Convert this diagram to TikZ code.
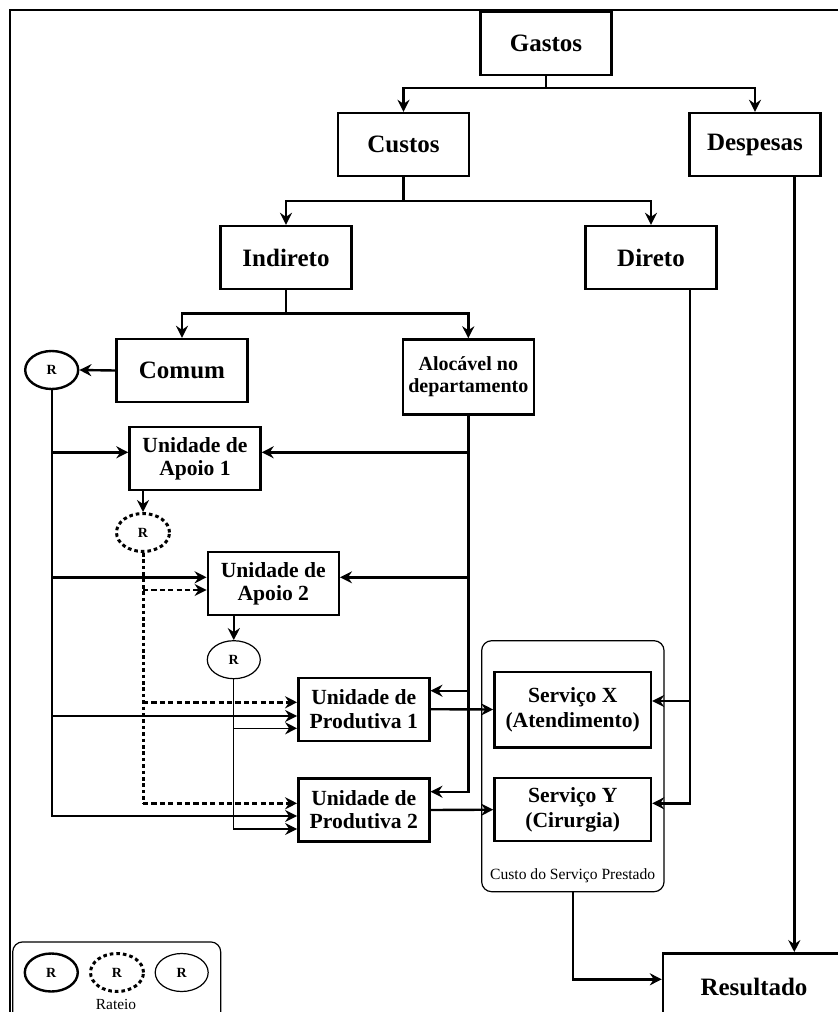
\documentclass[tikz,border=0pt]{standalone}
\usepackage{fontspec}
\setmainfont{Liberation Serif}
\usetikzlibrary{arrows.meta, positioning, shapes.geometric, calc}

\begin{document}
\begin{tikzpicture}[x=0.5pt, y=-0.5pt,
  box/.style={draw, line width=1.2pt, rectangle, align=center, inner sep=0pt,
    minimum width=65.5pt, minimum height=31.5pt, font=\fontsize{12.5}{14}\selectfont\bfseries},
  unitbox/.style={box, font=\fontsize{10.8}{11.6}\selectfont\bfseries},
  rat/.style={draw, ellipse, inner sep=0pt, minimum width=26.5pt, minimum height=19pt,
    font=\fontsize{7}{8}\selectfont\bfseries},
  link/.style={line width=1.2pt, -{Stealth[length=6pt, width=6pt, inset=2pt]}},
  thinlink/.style={line width=0.6pt, -{Stealth[length=6pt, width=6pt, inset=2pt]}},
  dashlink/.style={link, dash pattern=on 2.6pt off 1.6pt},
  dotline/.style={line width=1.5pt, dash pattern=on 1.8pt off 1.4pt},
  group/.style={draw, line width=0.6pt, rounded corners=5pt, inner sep=0pt}
]
  \useasboundingbox (0,0) rectangle (838,1012);
  \clip (0,0) rectangle (838,1012);

  % frame
  \draw[line width=1.2pt] (10,1030) -- (10,10) -- (850,10);

  % hierarchy
  \node[box] (gastos) at (546,43.5) {Gastos};
  \node[box] (custos) at (403.5,144.5) {Custos};
  \node[box] (despesas) at (755,144.5) {Despesas};
  \node[box] (indireto) at (286,257.5) {Indireto};
  \node[box] (direto) at (651,257.5) {Direto};
  \node[box] (comum) at (182,370.5) {Comum};
  \node[unitbox, minimum height=37.5pt, font=\fontsize{10}{11}\selectfont\bfseries] (alocavel) at (468.3,377) {Alocável no\\departamento};

  % units
  \node[unitbox] (apoio1) at (195,458.7) {Unidade de\\Apoio 1};
  \node[unitbox] (apoio2) at (273.3,583.7) {Unidade de\\Apoio 2};
  \node[unitbox] (prod1) at (363.8,709.2) {Unidade de\\Produtiva 1};
  \node[unitbox] (prod2) at (363.8,810) {Unidade de\\Produtiva 2};

  % services
  \node[group, minimum width=91.2pt, minimum height=125.5pt] (grupo) at (572.85,766.2) {};
  \node[font=\fontsize{7.8}{9}\selectfont, inner sep=0pt] (csp) at (572.7,876) {Custo do Serviço Prestado};
  \node[unitbox, minimum width=78.3pt, minimum height=37.8pt, font=\fontsize{10.8}{12.5}\selectfont\bfseries] (servx) at (572.7,709.5) {Serviço X\\(Atendimento)};
  \node[unitbox, minimum width=78.3pt, font=\fontsize{10.8}{12.5}\selectfont\bfseries] (servy) at (572.7,809.7) {Serviço Y\\(Cirurgia)};

  \node[box, minimum width=91pt, minimum height=33.4pt] (resultado) at (754,986.7) {Resultado};

  % rateio
  \node[rat, line width=1.2pt] (r1) at (51.7,370) {R};
  \node[rat, line width=1.5pt, dash pattern=on 1.8pt off 1.5pt] (r2) at (143,532.5) {R};
  \node[rat, line width=0.6pt] (r3) at (233.8,659.7) {R};

  % legend
  \node[group, minimum width=104pt, minimum height=44pt] (legenda) at (116.7,985.9) {};
  \node[rat, line width=1.2pt] (leg1) at (51.3,972.5) {R};
  \node[rat, line width=1.5pt, dash pattern=on 1.8pt off 1.5pt] (leg2) at (117,972.5) {R};
  \node[rat, line width=0.6pt] (leg3) at (181.7,972.5) {R};
  \node[font=\fontsize{7.7}{9}\selectfont, inner sep=0pt] (rateio) at (116,1004) {Rateio};

  % tree splits
  \coordinate (gsplit) at (546,87.7);
  \coordinate (csplit) at (403.5,200.7);
  \coordinate (isplit) at (286,313.3);
  \draw[link] (gastos.south) -- (gsplit) -| (custos.north);
  \draw[link] (gsplit) -| (despesas.north);
  \draw[link] (custos.south) -- (csplit) -| (indireto.north);
  \draw[link] (csplit) -| (direto.north);
  \draw[link] (indireto.south) -- (isplit) -| (comum.north);
  \draw[link] (isplit) -| (alocavel.north);

  \draw[link] (comum.west) -- (r1.east);

  % entry points
  \coordinate (a1l) at ($(apoio1.west)+(0,-6.4)$);
  \coordinate (a1r) at ($(apoio1.east)+(0,-6.4)$);
  \coordinate (a2l) at ($(apoio2.west)+(0,-6.4)$);
  \coordinate (a2d) at ($(apoio2.west)+(0,6.3)$);
  \coordinate (a2r) at ($(apoio2.east)+(0,-6.4)$);
  \coordinate (p1d) at ($(prod1.west)+(0,-6.9)$);
  \coordinate (p1l) at ($(prod1.west)+(0,6.8)$);
  \coordinate (p1t) at ($(prod1.west)+(0,19.1)$);
  \coordinate (p1r) at ($(prod1.east)+(0,-18.5)$);
  \coordinate (p2d) at ($(prod2.west)+(0,-6.7)$);
  \coordinate (p2l) at ($(prod2.west)+(0,6)$);
  \coordinate (p2t) at ($(prod2.west)+(0,19)$);
  \coordinate (p2r) at ($(prod2.east)+(0,-18.3)$);
  \coordinate (sxr) at ($(servx.east)+(0,-8.5)$);
  \coordinate (syr) at ($(servy.east)+(0,-6.4)$);
  \coordinate (dtop) at ($(direto.south)+(39,0)$);
  \coordinate (dsp) at ($(despesas.south)+(39.3,0)$);
  \coordinate (resl) at ($(resultado.west)+(0,-7.4)$);

  % comum
  \draw[link] (r1.south) |- (p2l);
  \draw[link] (r1.south |- a1l) -- (a1l);
  \draw[link] (r1.south |- a2l) -- (a2l);
  \draw[link] (r1.south |- p1l) -- (p1l);

  % alocavel
  \draw[link] (alocavel.south) |- (p2r);
  \draw[link] (alocavel.south |- a1r) -- (a1r);
  \draw[link] (alocavel.south |- a2r) -- (a2r);
  \draw[link] (alocavel.south |- p1r) -- (p1r);

  % apoio 1
  \draw[link] (r2.north |- apoio1.south) -- (r2.north);
  \draw[dotline] (r2.south) -- (r2.south |- p2d);
  \draw[dashlink] (r2.south |- a2d) -- (a2d);
  \draw[dashlink] (r2.south |- p1d) -- (p1d);
  \draw[dashlink] (r2.south |- p2d) -- (p2d);

  % apoio 2
  \draw[link] (r3.north |- apoio2.south) -- (r3.north);
  \draw[thinlink] (r3.south) |- (p2t);
  \draw[thinlink] (r3.south |- p1t) -- (p1t);

  % servicos
  \draw[link] (prod1.east) -- (servx.west);
  \draw[link] (prod2.east) -- (servy.west);
  \draw[link] (dtop) |- (syr);
  \draw[link] (dtop |- sxr) -- (sxr);

  % resultado
  \draw[link] (dsp) -- (dsp |- resultado.north);
  \draw[link] (grupo.south) |- (resl);
\end{tikzpicture}
\end{document}
